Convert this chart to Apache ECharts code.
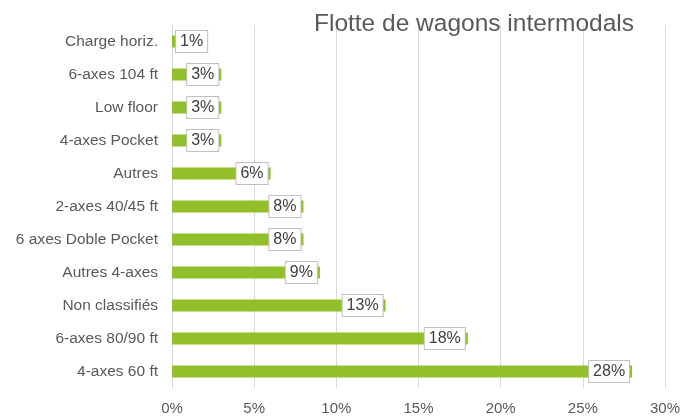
<!DOCTYPE html>
<html>
<head>
<meta charset="utf-8">
<script src="https://cdn.jsdelivr.net/npm/echarts@6/dist/echarts.min.js"></script>
<style>
  html, body { margin: 0; padding: 0; background: #fff; }
  #chart { width: 683px; height: 417px; }
</style>
</head>
<body>
<div id="chart"></div>
<script>
// categories bottom to top
const categories = [
  '4-axes 60 ft', '6-axes 80/90 ft', 'Non classifiés', 'Autres 4-axes',
  '6 axes Doble Pocket', '2-axes 40/45 ft', 'Autres', '4-axes Pocket',
  'Low floor', '6-axes 104 ft', 'Charge horiz.'
]
// shares in percent
const shares = [28, 18, 13, 9, 8, 8, 6, 3, 3, 3, 1]
const xTicks = [0, 5, 10, 15, 20, 25, 30]

const chart = echarts.init(document.getElementById('chart'))

const font = 'Liberation Sans, Arial, sans-serif'

const option = {
  animation: false,
  textStyle: { fontFamily: font },
  title: {
    text: 'Flotte de wagons intermodals',
    right: 44,
    top: 7,
    textStyle: { fontFamily: font, fontSize: 24.5, fontWeight: 'normal', color: '#595959' }
  },
  grid: { left: 172, right: 14, top: 25, bottom: 29 },
  xAxis: {
    type: 'value',
    min: xTicks[0],
    max: xTicks[xTicks.length - 1],
    interval: 5,
    axisLine: { show: false },
    axisTick: { show: false },
    axisLabel: { formatter: '{value}%', color: '#595959', fontSize: 15, margin: 13 },
    splitLine: { lineStyle: { color: '#d9d9d9' } }
  },
  yAxis: {
    type: 'category',
    data: categories,
    axisLine: { show: true, lineStyle: { color: '#d9d9d9' } },
    axisTick: { show: false },
    axisLabel: { color: '#595959', fontSize: 15.5, margin: 14 }
  },
  series: [{
    type: 'bar',
    barWidth: 12,
    itemStyle: { color: '#92c02a' },
    data: shares.map(v => {
      const item = { value: v }
      if (v <= 1) item.label = { position: 'insideLeft', distance: 4 }
      return item
    }),
    label: {
      show: true,
      position: 'insideRight',
      distance: 3,
      formatter: '{c}%',
      color: '#404040',
      fontSize: 16,
      backgroundColor: '#fff',
      borderColor: '#bfbfbf',
      borderWidth: 1,
      padding: [3, 4, 2, 4]
    }
  }]
}

chart.setOption(option)
</script>
</body>
</html>
